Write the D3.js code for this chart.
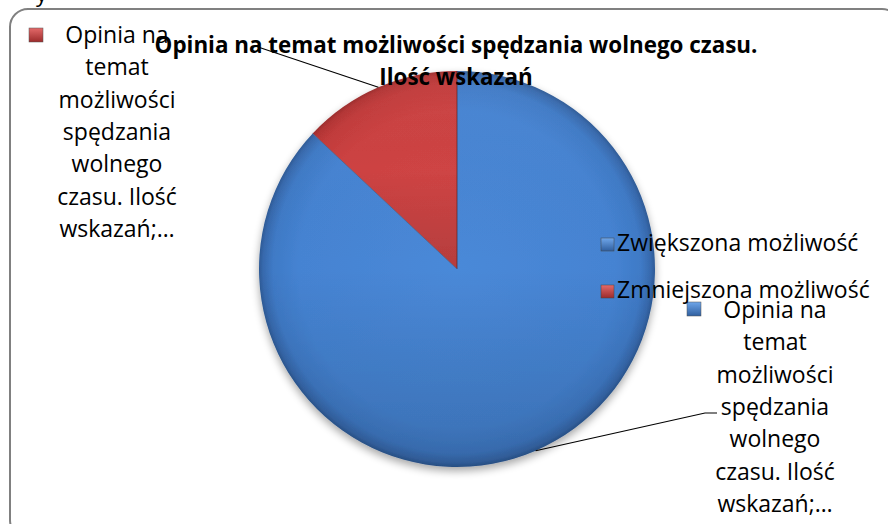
<!DOCTYPE html>
<html>
<head>
<meta charset="utf-8">
<script src="https://cdn.jsdelivr.net/npm/d3@7"></script>
<style>
  html, body { margin: 0; padding: 0; background: #fff; }
  svg { display: block; }
</style>
</head>
<body>
<script>
// ---- data ----
const categories = ["Zwiększona możliwość", "Zmniejszona możliwość"];
const values = [87, 13];
const titleLines = ["Opinia na temat możliwości spędzania wolnego czasu.", "Ilość wskazań"];
const labelLines = ["Opinia na", "temat", "możliwości", "spędzania", "wolnego", "czasu. Ilość", "wskazań;…"];

const W = 888, H = 524;
const font = "'Open Sans', sans-serif";
const svg = d3.select("body").append("svg").attr("width", W).attr("height", H);
const defs = svg.append("defs");

// gradients
const grads = [
  ["gBlue", ["#4a89d8", "#4583d2", "#3f7ac6", "#3769ad", "#2d5a96"]],
  ["gRed", ["#d24747", "#cc4242", "#c23b3b", "#b33434", "#9c2b2b"]]
];
const R = 198;
grads.forEach(([id, st]) => {
  const g = defs.append("radialGradient").attr("id", id)
    .attr("gradientUnits", "userSpaceOnUse").attr("cx", 0).attr("cy", 0).attr("r", R);
  [0, 0.8, 0.93, 0.98, 1].forEach((o, i) => g.append("stop").attr("offset", o).attr("stop-color", st[i]));
});
const shade = defs.append("linearGradient").attr("id", "shade").attr("x1", 0).attr("y1", 0).attr("x2", 0).attr("y2", 1);
shade.append("stop").attr("offset", 0).attr("stop-color", "#fff").attr("stop-opacity", 0.04);
shade.append("stop").attr("offset", 0.5).attr("stop-color", "#000").attr("stop-opacity", 0.0);
shade.append("stop").attr("offset", 1).attr("stop-color", "#000").attr("stop-opacity", 0.14);

const f = defs.append("filter").attr("id", "sh").attr("x", "-20%").attr("y", "-20%").attr("width", "140%").attr("height", "140%");
f.append("feGaussianBlur").attr("in", "SourceAlpha").attr("stdDeviation", 4).attr("result", "b");
f.append("feOffset").attr("in", "b").attr("dx", 0).attr("dy", 4).attr("result", "o");
f.append("feComponentTransfer").attr("in", "o").attr("result", "o2")
  .append("feFuncA").attr("type", "linear").attr("slope", 0.35);
const fm = f.append("feMerge");
fm.append("feMergeNode").attr("in", "o2");
fm.append("feMergeNode").attr("in", "SourceGraphic");

["lgBlue:#6fa6ea:#2f5f9f", "lgRed:#e46a6a:#9c2b2b"].forEach(s => {
  const [id, c1, c2] = s.split(":");
  const g = defs.append("linearGradient").attr("id", id).attr("x1", 0).attr("y1", 0).attr("x2", 0).attr("y2", 1);
  g.append("stop").attr("offset", 0).attr("stop-color", c1);
  g.append("stop").attr("offset", 1).attr("stop-color", c2);
});

// chart frame (rounded, extends beyond right/bottom edges)
const fr = d3.path();
const x0 = 10, y0 = 9, x1 = 900, y1 = 538, rr = 18;
fr.moveTo(x0 + rr, y0);
fr.lineTo(x1 - rr, y0);
fr.arcTo(x1, y0, x1, y0 + rr, rr);
fr.lineTo(x1, y1 - rr);
fr.arcTo(x1, y1, x1 - rr, y1, rr);
fr.lineTo(x0 + rr, y1);
fr.arcTo(x0, y1, x0, y1 - rr, rr);
fr.lineTo(x0, y0 + rr);
fr.arcTo(x0, y0, x0 + rr, y0, rr);
fr.closePath();
svg.append("path").attr("d", fr.toString()).attr("fill", "#fff").attr("stroke", "#808080").attr("stroke-width", 2);

// cut-off text at very top
svg.append("text").attr("x", 36).attr("y", 2).attr("font-family", font).attr("font-size", 22)
  .attr("fill", "#000").text("y");

// pie
const cx = 457, cy = 269;
const pie = d3.pie().sort(null).value(d => d)(values);
const arc = d3.arc().innerRadius(0).outerRadius(R);
const gp = svg.append("g").attr("transform", `translate(${cx},${cy})`);
const gPie = gp.append("g").attr("filter", "url(#sh)");
gPie.selectAll("path.slice").data(pie).join("path").attr("class", "slice")
  .attr("d", arc)
  .attr("fill", (d, i) => i === 0 ? "url(#gBlue)" : "url(#gRed)");
gPie.selectAll("path.shade").data(pie).join("path").attr("class", "shade")
  .attr("d", arc).attr("fill", "url(#shade)");
gp.selectAll("line.sep").data(pie).join("line").attr("class", "sep")
  .attr("x1", 0).attr("y1", 0)
  .attr("x2", d => R * Math.sin(d.startAngle)).attr("y2", d => -R * Math.cos(d.startAngle))
  .attr("stroke", (d, i) => i === 0 ? "#5a2020" : "#3a5f90").attr("stroke-width", 1).attr("opacity", 0.7);

// leader lines
const mid = d => (d.startAngle + d.endAngle) / 2;
const pt = (a, r) => [cx + r * Math.sin(a), cy - r * Math.cos(a)];
const leader = [
  [pt(mid(pie[0]), R), [705, 413], [717, 413]],
  [pt(mid(pie[1]), R), [255, 46]]
];
svg.selectAll("path.leader").data(leader).join("path").attr("class", "leader")
  .attr("d", d => d3.line()(d)).attr("fill", "none").attr("stroke", "#000").attr("stroke-width", 1.2);

// data labels
function dataLabel(x, yb, sqx, sqy, grad) {
  const t = svg.append("text").attr("font-family", font).attr("font-size", 23).attr("text-anchor", "middle").attr("fill", "#000");
  labelLines.forEach((l, i) => t.append("tspan").attr("x", x).attr("y", yb + i * 32.3).text(l));
  svg.append("rect").attr("x", sqx).attr("y", sqy).attr("width", 14).attr("height", 14)
    .attr("fill", `url(#${grad})`).attr("stroke", "#555").attr("stroke-width", 0.5);
}
dataLabel(117, 43, 29, 28, "lgRed");
dataLabel(775, 318, 687, 302, "lgBlue");

// title
const tt = svg.append("text").attr("font-family", font).attr("font-size", 22.4).attr("font-weight", "bold")
  .attr("text-anchor", "middle").attr("fill", "#000");
titleLines.forEach((l, i) => tt.append("tspan").attr("x", 456).attr("y", 53 + i * 32).text(l));

// legend
const lg = svg.append("g").attr("transform", "translate(601,238)");
categories.forEach((c, i) => {
  const g = lg.append("g").attr("transform", `translate(0,${i * 47})`);
  g.append("rect").attr("width", 13).attr("height", 13).attr("fill", i === 0 ? "url(#lgBlue)" : "url(#lgRed)")
    .attr("stroke", "#444").attr("stroke-width", 0.5);
  g.append("text").attr("x", 16).attr("y", 13).attr("font-family", font).attr("font-size", 23).attr("fill", "#000").text(c);
});
</script>
</body>
</html>
